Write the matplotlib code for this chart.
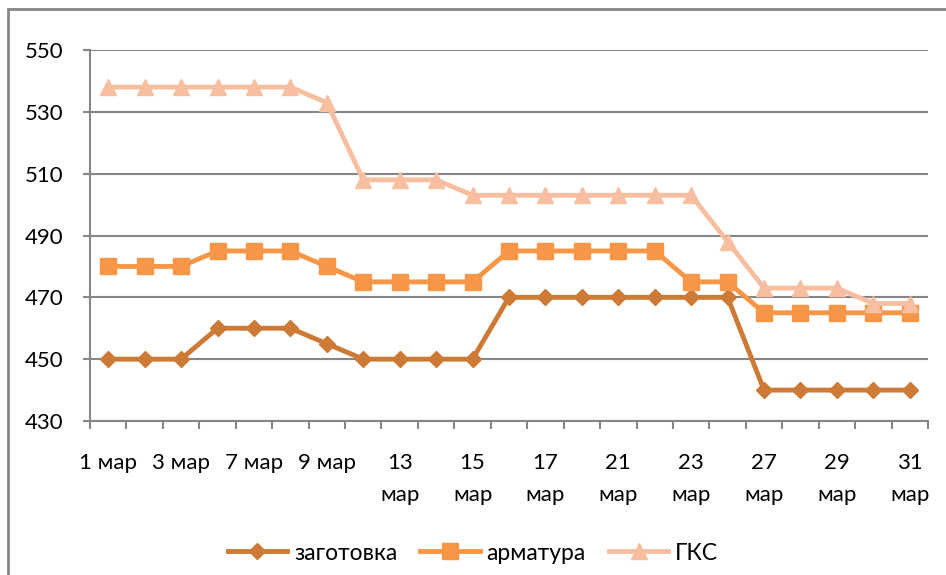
import matplotlib
matplotlib.use("Agg")
import matplotlib.pyplot as plt
from matplotlib.patches import Rectangle

# dates (trading days in March); only every other one is labelled
dates = ["1 мар", "2 мар", "3 мар", "6 мар", "7 мар", "8 мар", "9 мар", "10 мар",
         "13\nмар", "14\nмар", "15\nмар", "16\nмар", "17\nмар", "20\nмар", "21\nмар",
         "22\nмар", "23\nмар", "24\nмар", "27\nмар", "28\nмар", "29\nмар", "30\nмар", "31\nмар"]

zagotovka = [450, 450, 450, 460, 460, 460, 455, 450, 450, 450, 450, 470,
             470, 470, 470, 470, 470, 470, 440, 440, 440, 440, 440]
armatura = [480, 480, 480, 485, 485, 485, 480, 475, 475, 475, 475, 485,
            485, 485, 485, 485, 475, 475, 465, 465, 465, 465, 465]
gks = [538, 538, 538, 538, 538, 538, 533, 508, 508, 508, 503, 503,
       503, 503, 503, 503, 503, 488, 473, 473, 473, 468, 468]

series_names = ["заготовка", "арматура", "ГКС"]
y_ticks = [430, 450, 470, 490, 510, 530, 550]

plt.rcParams['font.family'] = ['Lato', 'DejaVu Sans']

fig = plt.figure(figsize=(9.46, 5.75), dpi=100)
ax = fig.add_axes([90 / 946, 1 - 421 / 575, 838 / 946, 371 / 575])

grid_col = "#868686"
x = list(range(len(dates)))

ax.plot(x, zagotovka, color="#CC7A36", lw=3.5, marker="D", ms=8, label=series_names[0], zorder=3)
ax.plot(x, armatura, color="#F79646", lw=3.5, marker="s", ms=11, label=series_names[1], zorder=3)
ax.plot(x, gks, color="#F7BFA0", lw=3.5, marker="^", ms=11, label=series_names[2], zorder=3)

ax.set_xlim(-0.5, len(dates) - 0.5)
ax.set_ylim(430, 550)
ax.set_yticks(y_ticks)
ax.yaxis.grid(True, color=grid_col, lw=1.5)
ax.set_axisbelow(True)

ax.set_xticks(x[::2])
ax.set_xticklabels(dates[::2], linespacing=1.75, va="top")
ax.set_xticks([i - 0.5 for i in range(len(dates) + 1)], minor=True)
ax.tick_params(axis="x", which="major", length=0, pad=23, labelsize=16)
ax.tick_params(axis="x", which="minor", length=6, width=1.5, color=grid_col)
ax.tick_params(axis="y", length=5, width=1.5, color=grid_col, labelsize=16, pad=14)

for s in ["top", "right"]:
    ax.spines[s].set_visible(False)
for s in ["left", "bottom"]:
    ax.spines[s].set_color(grid_col)
    ax.spines[s].set_linewidth(1.5)

leg = fig.legend(loc="center", bbox_to_anchor=(0.5, 1 - 553 / 575), ncol=3, frameon=False,
                 fontsize=16.5, handlelength=2.6, columnspacing=1.0, handletextpad=0.3)

fig.patches.append(Rectangle((8 / 946, -0.1), 1.2, 1 - 9 / 575 + 0.1, transform=fig.transFigure,
                             fill=False, edgecolor=grid_col, lw=2))

fig.savefig("out.png", dpi=100)
